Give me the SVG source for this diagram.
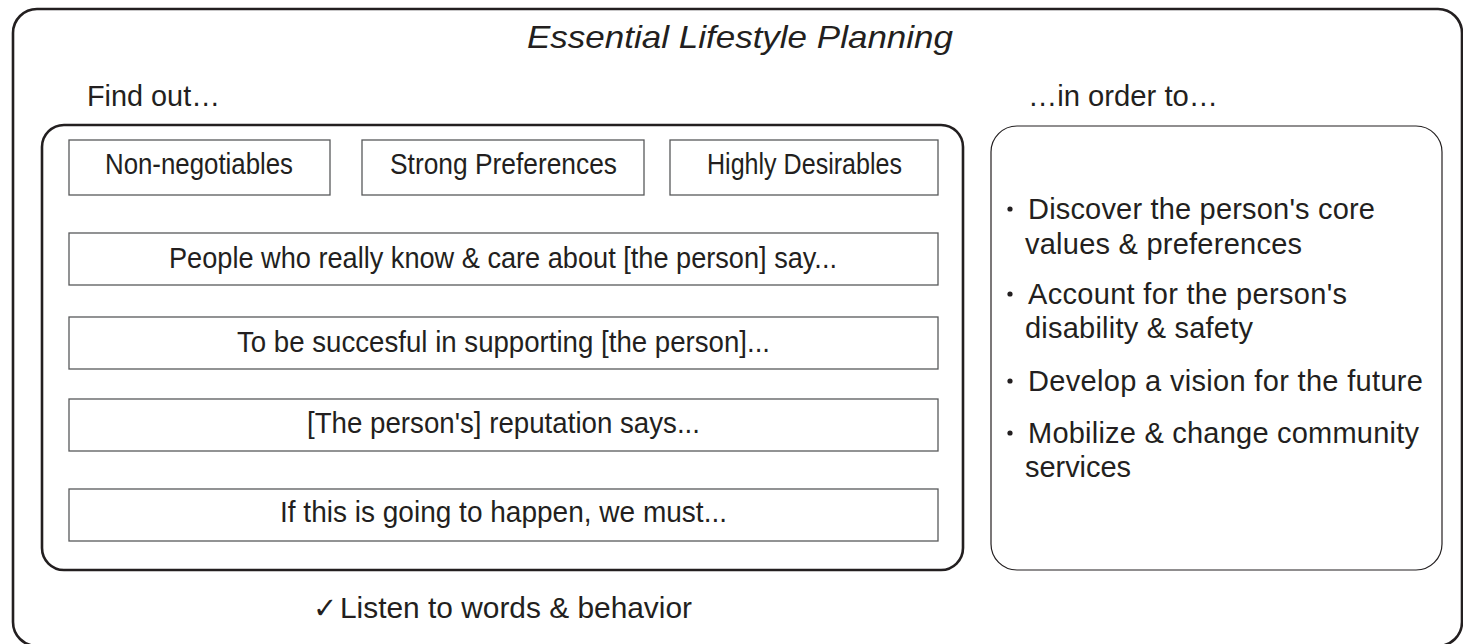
<svg xmlns="http://www.w3.org/2000/svg" width="1463" height="644" viewBox="0 0 1463 644">
<style>
.frame{fill:none;stroke:#231f20;stroke-width:2.6}
.thin{fill:#fff;stroke:#231f20;stroke-width:1.2}
.box{fill:#fff;stroke:#58595b;stroke-width:1.3}
.t{font-family:"Liberation Sans",Arial,sans-serif;fill:#231f20}
.c{font-family:"Liberation Sans Narrow","Liberation Sans",Arial,sans-serif;font-size:29px;fill:#231f20}
.b{font-family:"Liberation Sans",Arial,sans-serif;font-size:29px;fill:#231f20}
.dot{fill:#231f20}
</style>
<rect width="1463" height="644" fill="#fff"/>
<g id="outer">
<rect class="frame" x="13" y="9" width="1449" height="637" rx="24"/>
<text class="t" x="527" y="48" font-size="32" font-style="italic" textLength="426" lengthAdjust="spacingAndGlyphs">Essential Lifestyle Planning</text>
<text class="t" x="87" y="106" font-size="29" textLength="133" lengthAdjust="spacingAndGlyphs">Find out…</text>
<text class="t" x="1028" y="106" font-size="29" textLength="190" lengthAdjust="spacingAndGlyphs">…in order to…</text>
<text class="t" x="313" y="618" font-size="29">✓<tspan x="340" textLength="352" lengthAdjust="spacingAndGlyphs">Listen to words &amp; behavior</tspan></text>
</g>
<g id="find-out">
<rect class="frame" x="42" y="125" width="921" height="445" rx="22"/>
</g>
<g id="non-negotiables">
<rect class="box" x="69" y="140" width="261" height="55"/>
<text class="c" x="105" y="174" textLength="188" lengthAdjust="spacingAndGlyphs">Non-negotiables</text>
</g>
<g id="strong-preferences">
<rect class="box" x="362" y="140" width="282" height="55"/>
<text class="c" x="390" y="174" textLength="227" lengthAdjust="spacingAndGlyphs">Strong Preferences</text>
</g>
<g id="highly-desirables">
<rect class="box" x="670" y="140" width="268" height="55"/>
<text class="c" x="707" y="174" textLength="195" lengthAdjust="spacingAndGlyphs">Highly Desirables</text>
</g>
<g id="people-say">
<rect class="box" x="69" y="233" width="869" height="52"/>
<text class="c" x="169" y="268" textLength="668" lengthAdjust="spacingAndGlyphs">People who really know &amp; care about [the person] say...</text>
</g>
<g id="to-be-successful">
<rect class="box" x="69" y="317" width="869" height="52"/>
<text class="c" x="237" y="352" textLength="533" lengthAdjust="spacingAndGlyphs">To be succesful in supporting [the person]...</text>
</g>
<g id="reputation">
<rect class="box" x="69" y="399" width="869" height="52"/>
<text class="c" x="307" y="433" textLength="393" lengthAdjust="spacingAndGlyphs">[The person's] reputation says...</text>
</g>
<g id="we-must">
<rect class="box" x="69" y="489" width="869" height="52"/>
<text class="c" x="280" y="522" textLength="447" lengthAdjust="spacingAndGlyphs">If this is going to happen, we must...</text>
</g>
<g id="in-order-to">
<rect class="thin" x="991" y="126" width="451" height="444" rx="26"/>
<circle class="dot" cx="1010" cy="209" r="2.6"/>
<text class="b" x="1028" y="219" textLength="347" lengthAdjust="spacing">Discover the person's core</text>
<text class="b" x="1025" y="254" textLength="277" lengthAdjust="spacing">values &amp; preferences</text>
<circle class="dot" cx="1010" cy="294" r="2.6"/>
<text class="b" x="1028" y="304" textLength="319" lengthAdjust="spacing">Account for the person's</text>
<text class="b" x="1025" y="338" textLength="228" lengthAdjust="spacing">disability &amp; safety</text>
<circle class="dot" cx="1010" cy="381" r="2.6"/>
<text class="b" x="1028" y="391" textLength="395" lengthAdjust="spacing">Develop a vision for the future</text>
<circle class="dot" cx="1010" cy="433" r="2.6"/>
<text class="b" x="1028" y="443" textLength="391" lengthAdjust="spacing">Mobilize &amp; change community</text>
<text class="b" x="1025" y="477" textLength="106" lengthAdjust="spacing">services</text>
</g>
<g id="connectors"></g>
</svg>
